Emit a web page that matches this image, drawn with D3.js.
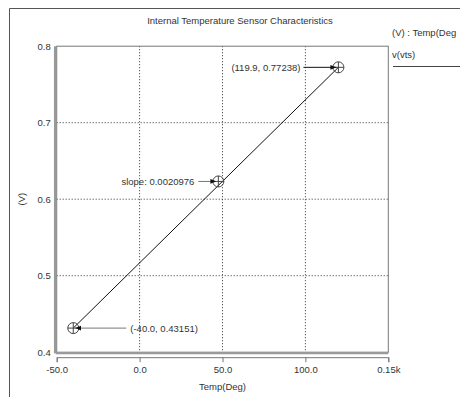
<!DOCTYPE html>
<html>
<head>
<meta charset="utf-8">
<script src="https://cdn.jsdelivr.net/npm/d3@7"></script>
<style>
  body { margin: 0; background: #fff; }
  text { font-family: "Liberation Sans", Arial, sans-serif; fill: #333; }
</style>
</head>
<body>
<div id="chart"></div>
<script>
// data
const xTicks = [-50, 0, 50, 100, 150];
const xTickLabels = ["-50.0", "0.0", "50.0", "100.0", "0.15k"];
const yTicks = [0.4, 0.5, 0.6, 0.7, 0.8];
const yTickLabels = ["0.4", "0.5", "0.6", "0.7", "0.8"];
const lineTemps = [-40.0, 119.9];
const lineVolts = [0.43151, 0.77238];
const markerTemps = [-40.0, 47.5, 119.9];
const markerVolts = [0.43151, 0.6232, 0.77238];
const markerLabels = ["(-40.0, 0.43151)", "slope: 0.0020976", "(119.9, 0.77238)"];

const width = 460, height = 397;
const plotLeft = 56.7, plotRight = 388.3, plotTop = 46.2, plotBottom = 352.2;
const fs = "9.5px";

const svg = d3.select("#chart").append("svg")
  .attr("width", width)
  .attr("height", height);

const x = d3.scaleLinear().domain([-50, 150]).range([plotLeft, plotRight]);
const y = d3.scaleLinear().domain([0.4, 0.8]).range([plotBottom, plotTop]);

// outer frame
svg.append("path")
  .attr("d", `M9.5,${height} V8.5 H${width}`)
  .attr("fill", "none").attr("stroke", "#555").attr("stroke-width", 1);

// title
svg.append("text")
  .attr("x", 240).attr("y", 24)
  .attr("text-anchor", "middle")
  .style("font-size", fs)
  .text("Internal Temperature Sensor Characteristics");

// legend
svg.append("text").attr("x", 392).attr("y", 36).style("font-size", fs).text("(V) : Temp(Deg");
svg.append("text").attr("x", 392).attr("y", 58).style("font-size", fs).text("v(vts)");
svg.append("line").attr("x1", 393).attr("x2", width).attr("y1", 66.5).attr("y2", 66.5)
  .attr("stroke", "#444");

// grid
svg.append("g").selectAll("line")
  .data(xTicks.slice(1, -1)).enter().append("line")
  .attr("x1", d => x(d)).attr("x2", d => x(d))
  .attr("y1", plotTop).attr("y2", plotBottom)
  .attr("stroke", "#333").attr("stroke-dasharray", "1,2");
svg.append("g").selectAll("line")
  .data(yTicks.slice(1, -1)).enter().append("line")
  .attr("x1", plotLeft).attr("x2", plotRight)
  .attr("y1", d => y(d)).attr("y2", d => y(d))
  .attr("stroke", "#333").attr("stroke-dasharray", "1,2");

// plot frame
svg.append("rect")
  .attr("x", plotLeft).attr("y", plotTop)
  .attr("width", plotRight - plotLeft).attr("height", plotBottom - plotTop)
  .attr("fill", "none").attr("stroke", "#777").attr("stroke-width", 1);
svg.append("line").attr("x1", plotLeft - 1.5).attr("x2", plotLeft - 1.5).attr("y1", plotTop).attr("y2", plotBottom + 1)
  .attr("stroke", "#999").attr("stroke-width", 2.5);
svg.append("line").attr("x1", plotLeft - 1).attr("x2", plotRight).attr("y1", plotBottom + 1).attr("y2", plotBottom + 1)
  .attr("stroke", "#999").attr("stroke-width", 2);

// x axis
const xAxis = svg.append("g")
  .attr("transform", `translate(0,${plotBottom + 5})`)
  .call(d3.axisBottom(x).tickValues(xTicks).tickSize(5).tickPadding(4)
    .tickFormat((d, i) => xTickLabels[i]));
xAxis.select(".domain").attr("stroke", "#777");
xAxis.selectAll(".tick line").attr("stroke", "#777");
xAxis.selectAll("text").style("font-size", fs).attr("fill", "#333")
  .style("font-family", "'Liberation Sans', Arial, sans-serif");
svg.append("text")
  .attr("x", x(50)).attr("y", 390)
  .attr("text-anchor", "middle").style("font-size", fs)
  .text("Temp(Deg)");

// y axis
const yAxis = svg.append("g")
  .attr("transform", `translate(${plotLeft - 3},0)`)
  .call(d3.axisLeft(y).tickValues(yTicks).tickSize(0).tickPadding(3)
    .tickFormat((d, i) => yTickLabels[i]));
yAxis.select(".domain").remove();
yAxis.selectAll("text").style("font-size", fs).attr("fill", "#333")
  .style("font-family", "'Liberation Sans', Arial, sans-serif");
svg.append("text")
  .attr("transform", `translate(25,${y(0.6)}) rotate(-90)`)
  .attr("text-anchor", "middle").style("font-size", fs)
  .text("(V)");

// data line
svg.append("path")
  .datum(lineTemps.map((t, i) => [t, lineVolts[i]]))
  .attr("d", d3.line().x(d => x(d[0])).y(d => y(d[1])))
  .attr("fill", "none").attr("stroke", "#111").attr("stroke-width", 1);

// markers
const markers = svg.append("g").selectAll("g")
  .data(markerTemps.map((t, i) => ({ t, v: markerVolts[i] })))
  .enter().append("g")
  .attr("transform", d => `translate(${x(d.t)},${y(d.v)})`);
markers.append("circle").attr("r", 5.5).attr("fill", "none").attr("stroke", "#444");
markers.append("path").attr("d", "M-5.5,0H5.5M0,-5.5V5.5").attr("stroke", "#444");

// annotations
svg.append("defs").append("marker")
  .attr("id", "arrow").attr("viewBox", "0 0 10 10")
  .attr("refX", 10).attr("refY", 5)
  .attr("markerWidth", 6).attr("markerHeight", 6)
  .attr("orient", "auto-start-reverse")
  .append("path").attr("d", "M0,1L10,5L0,9Z").attr("fill", "#111");

const notes = [
  { i: 0, tx: x(-40) + 57, anchor: "start", lx1: x(-40) + 53, lx2: x(-40) + 2 },
  { i: 1, tx: x(47.5) - 24, anchor: "end", lx1: x(47.5) - 20, lx2: x(47.5) - 2 },
  { i: 2, tx: x(119.9) - 38, anchor: "end", lx1: x(119.9) - 35, lx2: x(119.9) - 2 }
];
notes.forEach(n => {
  const yy = y(markerVolts[n.i]);
  svg.append("text")
    .attr("x", n.tx).attr("y", yy + 3.5)
    .attr("text-anchor", n.anchor).style("font-size", fs)
    .text(markerLabels[n.i]);
  svg.append("line")
    .attr("x1", n.lx1).attr("x2", n.lx2).attr("y1", yy).attr("y2", yy)
    .attr("stroke", n.i === 2 ? "#111" : "#777")
    .attr("marker-end", "url(#arrow)");
});
</script>
</body>
</html>
